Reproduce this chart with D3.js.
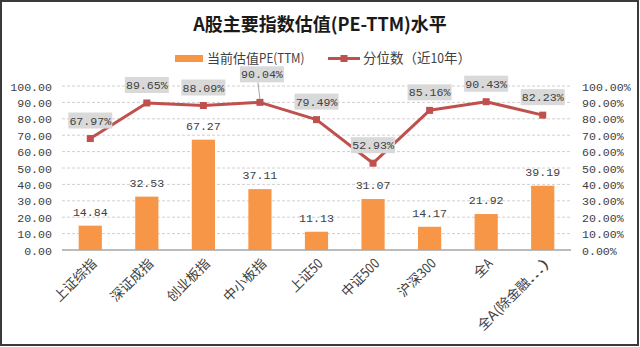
<!DOCTYPE html>
<html><head><meta charset="utf-8">
<script src="https://cdn.jsdelivr.net/npm/d3@7/dist/d3.min.js"></script>
<style>
html,body{margin:0;padding:0;background:#fff;}
svg{display:block;}
</style></head>
<body>
<svg id="chart" width="640" height="347"></svg>
<script>
const categories = ["上证综指","深证成指","创业板指","中小板指","上证50","中证500","沪深300","全A","全A(除金融...)"];
const peValues = [14.84, 32.53, 67.27, 37.11, 11.13, 31.07, 14.17, 21.92, 39.19];
const percentileValues = [0.6797, 0.8965, 0.8809, 0.9004, 0.7949, 0.5293, 0.8516, 0.9043, 0.8223];
const leftTicks = [0,10,20,30,40,50,60,70,80,90,100];
const rightTicks = [0,0.1,0.2,0.3,0.4,0.5,0.6,0.7,0.8,0.9,1.0];
const title = "A股主要指数估值(PE-TTM)水平";
const seriesNames = ["当前估值PE(TTM)", "分位数（近10年）"];

const svg = d3.select("#chart");
const W = 640, H = 347;
const plot = {left: 62, right: 571, top: 86, bottom: 250};
const numFont = "'Liberation Mono','DejaVu Sans Mono',monospace";
const cjkFont = "'Noto Sans CJK SC','Noto Sans',sans-serif";
const textCol = "#404040";
const barCol = "#F79646";
const lineCol = "#C0504D";

// mixed text: ASCII runs squeezed to half-width cells, others in CJK font
function mixed(sel, str, size){
  const runs = str.match(/[\x00-\x7F]+|[^\x00-\x7F]+/g) || [];
  runs.forEach(r=>{
    const ascii = /^[\x00-\x7F]+$/.test(r);
    const t = sel.append("tspan").text(r).attr("font-family", cjkFont).attr("font-size", size);
    if(ascii) t.attr("textLength", r.length*size*0.5).attr("lengthAdjust","spacingAndGlyphs");
  });
}

// border
svg.append("rect").attr("x",1).attr("y",1).attr("width",W-3).attr("height",H-3)
  .attr("fill","#fff").attr("stroke","#3a3a3a").attr("stroke-width",2);

const x = d3.scaleBand().domain(categories).range([plot.left, plot.right]).paddingInner(0).paddingOuter(0);
const yL = d3.scaleLinear().domain([0,100]).range([plot.bottom, plot.top]);
const yR = d3.scaleLinear().domain([0,1]).range([plot.bottom, plot.top]);

// gridlines
svg.append("g").selectAll("line").data(leftTicks.filter(d=>d>0)).join("line")
  .attr("x1",plot.left).attr("x2",plot.right)
  .attr("y1",d=>yL(d)).attr("y2",d=>yL(d))
  .attr("stroke","#D0D0D0").attr("stroke-width",1).attr("stroke-dasharray","3,2");

// left axis
const axL = d3.axisLeft(yL).tickValues(leftTicks).tickFormat(d3.format(".2f")).tickSize(0).tickPadding(10);
const gL = svg.append("g").attr("transform",`translate(${plot.left},0)`).call(axL);
gL.select(".domain").remove();
gL.selectAll("text").attr("font-family",numFont).attr("font-size",11.6).attr("fill",textCol).attr("dy","0.35em");

// right axis
const axR = d3.axisRight(yR).tickValues(rightTicks).tickFormat(d3.format(".2%")).tickSize(0).tickPadding(11);
const gR = svg.append("g").attr("transform",`translate(${plot.right},0)`).call(axR);
gR.select(".domain").remove();
gR.selectAll("text").attr("font-family",numFont).attr("font-size",11.6).attr("fill",textCol).attr("dy","0.35em");

// bars
const bw = x.bandwidth()*0.41;
svg.append("g").selectAll("rect").data(peValues).join("rect")
  .attr("x",(d,i)=>x(categories[i])+x.bandwidth()/2-bw/2)
  .attr("width",bw)
  .attr("y",d=>yL(d)).attr("height",d=>yL(0)-yL(d))
  .attr("fill",barCol);

// baseline
svg.append("line").attr("x1",plot.left).attr("x2",plot.right)
  .attr("y1",yL(0)).attr("y2",yL(0)).attr("stroke","#A6A6A6").attr("stroke-width",1.5);

// bar labels
svg.append("g").selectAll("text").data(peValues).join("text")
  .attr("x",(d,i)=>x(categories[i])+x.bandwidth()/2)
  .attr("y",d=>yL(d)-10)
  .attr("text-anchor","middle")
  .attr("font-family",numFont).attr("font-size",11.6).attr("fill",textCol)
  .text(d=>d3.format(".2f")(d));

// x labels
svg.append("g").selectAll("text").data(categories).join("text")
  .attr("transform",d=>`translate(${x(d)+x.bandwidth()/2+4},${plot.bottom+11}) rotate(-45)`)
  .attr("text-anchor","end").attr("dy","0.35em")
  .attr("font-size",13.5).attr("fill",textCol)
  .each(function(d){ mixed(d3.select(this), d, 13.5); });

// line
const cx = (d,i)=>x(categories[i])+x.bandwidth()/2;
const line = d3.line().x(cx).y(d=>yR(d));
svg.append("path").datum(percentileValues).attr("d",line)
  .attr("fill","none").attr("stroke",lineCol).attr("stroke-width",3).attr("stroke-linejoin","round");
svg.append("g").selectAll("rect").data(percentileValues).join("rect")
  .attr("x",(d,i)=>cx(d,i)-3.5).attr("y",d=>yR(d)-3.5)
  .attr("width",7).attr("height",7).attr("fill",lineCol);

// line labels (one callout moved up with a leader line)
const calloutIndex = 3, calloutLift = 10;
const lbl = svg.append("g");
percentileValues.forEach((d,i)=>{
  const px = cx(d,i), py = yR(d);
  let lx = px, ly = py - 18;
  if(i===calloutIndex){
    lx = px + 2; ly = py - 18 - calloutLift;
    lbl.append("line").attr("x1",px-2).attr("y1",ly+8).attr("x2",px).attr("y2",py-3)
      .attr("stroke","#A6A6A6").attr("stroke-width",1);
  }
  lbl.append("rect").attr("x",lx-22).attr("y",ly-8).attr("width",44).attr("height",16).attr("fill","#D9D9D9");
  lbl.append("text").attr("x",lx).attr("y",ly).attr("dy","0.35em").attr("text-anchor","middle")
    .attr("font-family",numFont).attr("font-size",11.6).attr("fill",textCol)
    .text(d3.format(".2%")(d));
});

// title
svg.append("text").attr("x",320).attr("y",25).attr("dy","0.35em").attr("text-anchor","middle")
  .attr("font-family",cjkFont).attr("font-weight","bold").attr("font-size",18).attr("fill","#1a1a1a")
  .text(title);

// legend
const lg = svg.append("g");
lg.append("rect").attr("x",175).attr("y",55).attr("width",28).attr("height",7).attr("fill",barCol);
const t1 = lg.append("text").attr("x",207).attr("y",58.5).attr("dy","0.35em").attr("font-size",13).attr("fill",textCol);
mixed(t1, seriesNames[0], 13);
lg.append("line").attr("x1",328).attr("x2",360).attr("y1",58.5).attr("y2",58.5).attr("stroke",lineCol).attr("stroke-width",3);
lg.append("rect").attr("x",340.5).attr("y",55).attr("width",7).attr("height",7).attr("fill",lineCol);
const t2 = lg.append("text").attr("x",363).attr("y",58.5).attr("dy","0.35em").attr("font-size",13.5).attr("fill",textCol);
mixed(t2, seriesNames[1], 13.5);
</script>
</body></html>
